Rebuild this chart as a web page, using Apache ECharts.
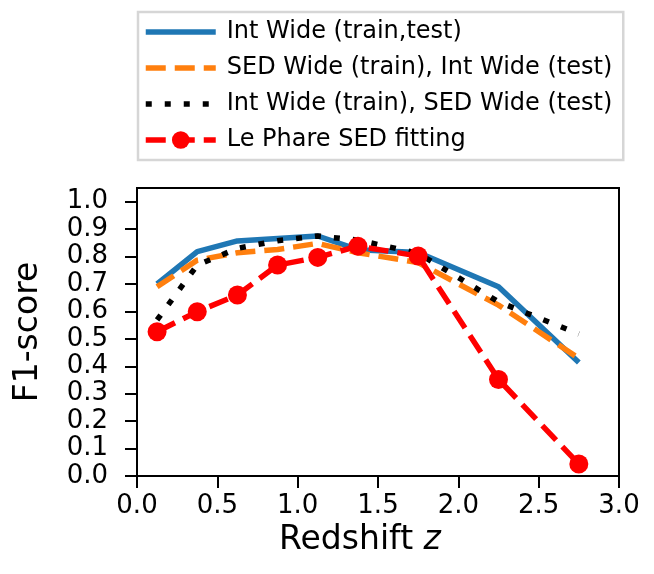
<!DOCTYPE html>
<html>
<head>
<meta charset="utf-8">
<script src="https://cdn.jsdelivr.net/npm/echarts@6/dist/echarts.min.js"></script>
<style>html,body{margin:0;padding:0;background:#fff;}#c{width:654px;height:574px;}</style>
</head>
<body>
<div id="c"></div>
<script>
const redshift = [0.125, 0.375, 0.625, 0.875, 1.125, 1.375, 1.75, 2.25, 2.75];
const intWide = [0.700, 0.818, 0.857, 0.866, 0.875, 0.825, 0.815, 0.690, 0.414];
const sedTrainIntTest = [0.690, 0.787, 0.814, 0.826, 0.848, 0.814, 0.778, 0.623, 0.429];
const intTrainSedTest = [0.569, 0.769, 0.830, 0.858, 0.875, 0.860, 0.812, 0.635, 0.518];
const lePhare = [0.526, 0.599, 0.660, 0.769, 0.797, 0.838, 0.802, 0.352, 0.044];
const seriesNames = ['Int Wide (train,test)', 'SED Wide (train), Int Wide (test)', 'Int Wide (train), SED Wide (test)', 'Le Phare SED fitting'];
const yTicks = [0, 0.1, 0.2, 0.3, 0.4, 0.5, 0.6, 0.7, 0.8, 0.9, 1.0];

const zip = ys => redshift.map((x, i) => [x, ys[i]]);
const FONT = 'DejaVu Sans';
const LW = 5.5;

const chart = echarts.init(document.getElementById('c'), null, {renderer: 'canvas'});
chart.setOption({
  animation: false,
  backgroundColor: '#fff',
  textStyle: {fontFamily: FONT, color: '#000'},
  grid: {left: 137, right: 35, top: 188, bottom: 98, show: true, borderColor: '#000', borderWidth: 2, backgroundColor: 'transparent'},
  legend: {
    orient: 'vertical', left: 138, top: 12,
    padding: [8, 11, 8, 5],
    itemWidth: 70, itemHeight: 22, itemGap: 12,
    borderColor: '#d6d6d6', borderWidth: 2.5, borderRadius: 0,
    textStyle: {fontFamily: FONT, fontSize: 24, color: '#000', lineHeight: 24, padding: [0, 0, 0, 6]},
    lineStyle: {width: LW},
    data: [
      {name: seriesNames[0], itemStyle: {opacity: 0}},
      {name: seriesNames[1], itemStyle: {opacity: 0}},
      {name: seriesNames[2], itemStyle: {opacity: 0}},
      {name: seriesNames[3]}
    ]
  },
  xAxis: {
    type: 'value', min: 0, max: 3, interval: 0.5,
    name: '{a|Redshift }{b|z}', nameLocation: 'middle', nameGap: 42,
    nameTextStyle: {padding: [0, 36, 0, 0], rich: {a: {fontFamily: FONT, fontSize: 33, color: '#000'}, b: {fontFamily: FONT, fontSize: 33, fontStyle: 'italic', color: '#000'}}},
    axisLine: {lineStyle: {color: '#000', width: 2}},
    axisTick: {inside: false, length: 12, lineStyle: {color: '#000', width: 2}},
    axisLabel: {fontFamily: FONT, fontSize: 26, color: '#000', margin: 17, formatter: v => v.toFixed(1)},
    splitLine: {show: false}
  },
  yAxis: {
    type: 'value', min: 0, max: 1.05,
    name: 'F1-score', nameLocation: 'middle', nameGap: 92,
    nameTextStyle: {fontFamily: FONT, fontSize: 33, color: '#000'},
    axisLine: {lineStyle: {color: '#000', width: 2}},
    axisTick: {inside: false, length: 12, customValues: yTicks, lineStyle: {color: '#000', width: 2}},
    axisLabel: {fontFamily: FONT, fontSize: 26, color: '#000', margin: 29, customValues: yTicks, formatter: v => v.toFixed(1)},
    splitLine: {show: false}
  },
  series: [
    {name: seriesNames[0], type: 'line', data: zip(intWide), showSymbol: false, symbol: 'none',
     lineStyle: {color: '#1f77b4', width: LW, type: 'solid'}, itemStyle: {color: '#1f77b4'}},
    {name: seriesNames[1], type: 'line', data: zip(sedTrainIntTest), showSymbol: false, symbol: 'none',
     lineStyle: {color: '#ff7f0e', width: LW, type: [20, 9]}, itemStyle: {color: '#ff7f0e'}},
    {name: seriesNames[2], type: 'line', data: zip(intTrainSedTest), showSymbol: false, symbol: 'none',
     lineStyle: {color: '#000', width: LW, type: [6, 13]}, itemStyle: {color: '#000'}},
    {name: seriesNames[3], type: 'line', data: zip(lePhare), symbol: 'circle', symbolSize: 19,
     lineStyle: {color: '#ff0000', width: LW, type: [20, 9]}, itemStyle: {color: '#ff0000', borderWidth: 0}}
  ]
});
</script>
</body>
</html>
